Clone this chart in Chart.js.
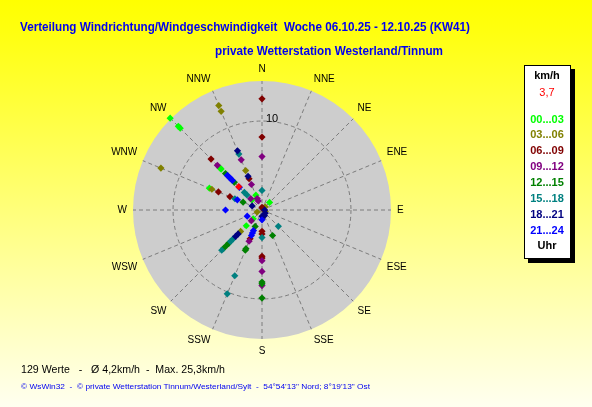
<!DOCTYPE html>
<html>
<head>
<meta charset="utf-8">
<script src="https://cdn.jsdelivr.net/npm/chart.js@4.4.1/dist/chart.umd.min.js"></script>
<style>
html,body{margin:0;padding:0;}
body{width:592px;height:407px;overflow:hidden;position:relative;
  background:linear-gradient(to bottom,#ffff00 0%,#ffff10 8%,#fffff0 100%);
  font-family:Arial,"Liberation Sans",sans-serif;}
#c{position:absolute;left:0;top:0;}
.t{position:absolute;white-space:pre;line-height:1;}
.title{font-weight:bold;font-size:13px;color:#0000f0;}
#legend{position:absolute;left:524px;top:65px;width:45px;height:192px;background:#fff;border:1px solid #000;box-shadow:4px 4px 0 #000;}
.lg{position:absolute;left:547px;font-weight:bold;font-size:11px;transform:translate(-50%,-50%);white-space:pre;line-height:1;}
</style>
</head>
<body>
<canvas id="c" width="592" height="407"></canvas>
<div class="t title" data-w="450" style="left:20px;top:26px;">Verteilung Windrichtung/Windgeschwindigkeit  Woche 06.10.25 - 12.10.25 (KW41)</div>
<div class="t title" data-w="228" style="left:215px;top:50px;">private Wetterstation Westerland/Tinnum</div>
<div class="t" data-w="204" style="left:21px;top:369px;font-size:11px;color:#000;">129 Werte   -   Ø 4,2km/h  -  Max. 25,3km/h</div>
<div class="t" data-w="349" style="left:21px;top:387px;font-size:8px;color:#0000f0;">© WsWin32  -  © private Wetterstation Tinnum/Westerland/Sylt  -  54°54'13" Nord; 8°19'13" Ost</div>
<div id="legend"></div>
<div id="legendItems"></div>
<script>
// ---- data ----
const directions = ['N','NNE','NE','ENE','E','ESE','SE','SSE','S','SSW','SW','WSW','W','WNW','NW','NNW'];
const hourBins = ['00...03','03...06','06...09','09...12','12...15','15...18','18...21','21...24'];
const speedMax = 14.5;
const speedTicks = [10];
const currentSpeed = '3,7';

const h00_03 = [['NW',14.6],['NW',13.3],['NW',13.0],['NW',6.7],['NW',6.5],['NW',1.6],['NNW',1.8],['WNW',6.4],['SW',1.4],['SW',2.5],['NE',1.2]];
const h03_06 = [['NNW',12.7],['NNW',12.0],['NNW',4.8],['WNW',12.3],['WNW',6.1],['SW',3.4],['NE',0.5],['WSW',0.6],['ESE',0.4]];
const h06_09 = [['N',12.5],['N',8.2],['NNW',3.8],['NW',8.1],['WNW',5.3],['WNW',3.9],['S',2.4],['S',2.7],['S',5.2],['S',5.4],['SSW',3.5],['N',0.3],['NNE',0.2]];
const h09_12 = [['N',6.0],['NNW',6.1],['NNW',3.1],['NNW',1.4],['NNW',1.1],['NW',7.1],['NW',1.8],['SW',1.7],['SSW',3.8],['S',5.7],['S',6.9],['S',8.5]];
const h12_15 = [['NW',5.8],['NW',4.4],['WNW',2.3],['SW',5.3],['SW',5.6],['SW',6.1],['SSW',2.0],['SSW',4.7],['SSW',4.9],['S',8.1],['S',8.3],['S',9.9],['SSE',3.1]];
const h15_18 = [['N',2.2],['NNW',6.8],['NW',2.8],['NW',2.4],['WNW',3.3],['SW',4.6],['SW',5.0],['SW',6.4],['SSW',8.0],['SSW',10.2],['S',3.1],['SE',2.6]];
const h18_21 = [['NNW',7.2],['NNW',4.1],['WNW',1.2],['SW',3.8],['SW',4.2],['S',0.7],['SSE',0.7],['SE',0.5],['E',0.3]];
const h21_24 = [['NW',5.5],['NW',5.2],['NW',5.0],['NW',4.7],['NW',3.6],['WNW',3.0],['W',4.1],['WSW',1.8],['SSW',2.5],['SSW',2.8],['SSW',3.1],['S',1.1]];
const current = [['NW',3.7]];

// ---- styles ----
const binColors = ['#00ff00','#808000','#800000','#800080','#008000','#008080','#000080','#0000ff'];
const currentColor = '#ff0000';

// ---- legend (HTML text) ----
(function(){
  const wrap = document.getElementById('legendItems');
  const add = (txt, y, color, bold) => {
    const d = document.createElement('div');
    d.className = 'lg'; d.textContent = txt;
    d.style.top = y + 'px'; d.style.color = color;
    if (!bold) d.style.fontWeight = 'normal';
    wrap.appendChild(d);
  };
  add('km/h', 75, '#000', true);
  add(currentSpeed, 92, currentColor, false);
  hourBins.forEach((b, i) => add(b, 118.5 + i * 15.9, binColors[i], true));
  add('Uhr', 245, '#000', true);
})();

// fit text widths
document.querySelectorAll('[data-w]').forEach(el => {
  const w = el.getBoundingClientRect().width;
  const target = +el.dataset.w;
  el.style.transformOrigin = '0 0';
  el.style.transform = 'translateY(-50%) scaleX(' + (target / w) + ')';
});

// ---- build datasets ----
function layers(points) {
  const out = [];
  points.forEach(([d, v]) => {
    const i = directions.indexOf(d);
    let layer = out.find(l => l[i] === null);
    if (!layer) { layer = directions.map(() => null); out.push(layer); }
    layer[i] = v;
  });
  return out;
}
const datasets = [];
function pushSeries(points, color, name) {
  layers(points).forEach(data => datasets.push({
    label: name, data,
    showLine: false, fill: false,
    backgroundColor: color, borderColor: color,
    pointBackgroundColor: color, pointBorderColor: color
  }));
}
pushSeries(current, currentColor, 'aktuell');
const allBins = [h00_03, h03_06, h06_09, h09_12, h12_15, h15_18, h18_21, h21_24];
for (let i = allBins.length - 1; i >= 0; i--) pushSeries(allBins[i], binColors[i], hourBins[i]);

const tickLabelPlugin = {
  id: 'tickLabel',
  beforeDatasetsDraw(chart) {
    const s = chart.scales.r, ctx = chart.ctx;
    speedTicks.forEach(v => {
      const p = s.getPointPositionForValue(0, v);
      ctx.save();
      ctx.font = '11px Arial, "Liberation Sans", sans-serif';
      ctx.fillStyle = '#000';
      ctx.textAlign = 'left';
      ctx.textBaseline = 'middle';
      ctx.fillText(String(v), p.x + 4, p.y - 2);
      ctx.restore();
    });
  }
};

const gridCol = '#7c7c7c';
const chart = new Chart(document.getElementById('c'), {
  type: 'radar',
  data: { labels: directions, datasets },
  options: {
    responsive: false,
    animation: false,
    events: [],
    layout: { padding: 40 },
    plugins: { legend: { display: false }, tooltip: { enabled: false }, title: { display: false } },
    elements: {
      line: { borderWidth: 0 },
      point: { pointStyle: 'rectRot', radius: 3.6, borderWidth: 0, hoverRadius: 3.6 }
    },
    scales: {
      r: {
        min: 0, max: speedMax,
        startAngle: 0,
        backgroundColor: '#cdcdcd',
        ticks: { display: false, stepSize: 10 },
        grid: {
          circular: true,
          color: c => (c.tick && speedTicks.includes(c.tick.value)) ? gridCol : 'rgba(0,0,0,0)',
          lineWidth: 1,
          borderDash: [4, 3]
        },
        border: { dash: [4, 3] },
        angleLines: { color: gridCol, lineWidth: 1, borderDash: [4, 3] },
        pointLabels: { font: { size: 10, family: 'Arial, "Liberation Sans", sans-serif' }, color: '#000', padding: 6 }
      }
    }
  },
  plugins: [tickLabelPlugin]
});

// fit radial scale to target centre / radius
(function(){
  const W = 592, HT = 407, CX = 262, CY = 210, R = 129;
  let H = 148, bx = CX, by = CY;
  for (let k = 0; k < 10; k++) {
    chart.options.layout.padding = { left: bx - H, right: W - bx - H, top: by - H, bottom: HT - by - H };
    chart.update('none');
    const s = chart.scales.r;
    const eR = R - s.drawingArea, ex = CX - s.xCenter, ey = CY - s.yCenter;
    if (Math.abs(eR) < 0.3 && ex === 0 && ey === 0) break;
    H += eR / 1.07; bx += ex; by += ey;
  }
})();
</script>
</body>
</html>
